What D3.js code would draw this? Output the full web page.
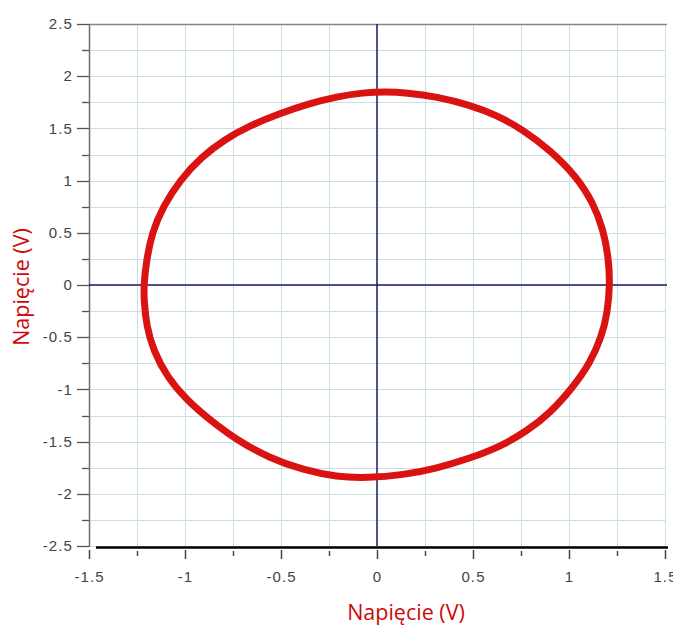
<!DOCTYPE html>
<html>
<head>
<meta charset="utf-8">
<script src="https://cdn.jsdelivr.net/npm/d3@7"></script>
<style>
  html, body { margin: 0; padding: 0; background: #ffffff; }
  svg { display: block; }
  .tick-label { font-family: "Liberation Sans", Arial, sans-serif; font-size: 15px; letter-spacing: 1.1px; fill: #444444; }
  .axis-title { font-family: "Open Sans", sans-serif; font-size: 21.5px; fill: #cc0a0a; }
</style>
</head>
<body>
<svg id="chart" width="673" height="628"></svg>
<script>
// Lissajous loop: voltage on channel 1 (x) vs channel 2 (y)
const loopX = [1.214, 1.205, 1.179, 1.127, 1.040, 0.901, 0.762, 0.623, 0.484, 0.311, 0.150, 0.050,
  -0.073, -0.210, -0.349, -0.505, -0.668, -0.792, -0.913, -1.026, -1.115, -1.173, -1.200, -1.214,
  -1.214, -1.200, -1.165, -1.095, -0.991, -0.870, -0.731, -0.557, -0.384, -0.210, -0.050,
  0.137, 0.311, 0.484, 0.641, 0.780, 0.901, 1.023, 1.109, 1.170, 1.200];
const loopY = [0.016, 0.271, 0.527, 0.783, 1.037, 1.293, 1.485, 1.628, 1.724, 1.804, 1.842, 1.852,
  1.843, 1.804, 1.740, 1.644, 1.522, 1.395, 1.229, 1.006, 0.750, 0.495, 0.240, 0.016,
  -0.144, -0.399, -0.623, -0.878, -1.102, -1.293, -1.485, -1.660, -1.772, -1.839, -1.848,
  -1.820, -1.756, -1.660, -1.549, -1.400, -1.229, -0.974, -0.750, -0.495, -0.271];

const xTicks = [-1.5, -1, -0.5, 0, 0.5, 1, 1.5];
const xTickLabels = ["-1.5", "-1", "-0.5", "0", "0.5", "1", "1.5"];
const yTicks = [2.5, 2, 1.5, 1, 0.5, 0, -0.5, -1, -1.5, -2, -2.5];
const yTickLabels = ["2.5", "2", "1.5", "1", "0.5", "0", "-0.5", "-1", "-1.5", "-2", "-2.5"];
const minorStep = 0.25;
const axisTitle = "Napięcie (V)";

const svg = d3.select("#chart");
const plotLeft = 89, plotRight = 665, plotTop = 24, plotBottom = 546;

const x = d3.scaleLinear().domain([-1.5, 1.5]).range([plotLeft, plotRight]);
const y = d3.scaleLinear().domain([-2.5, 2.5]).range([plotBottom, plotTop]);

const xGrid = d3.range(-1.5, 1.5001, minorStep);
const yGrid = d3.range(-2.5, 2.5001, minorStep);
const isMajor = (ticks, d) => ticks.some(t => Math.abs(t - d) < 1e-9);

// grid
const grid = svg.append("g").attr("stroke", "#cadfe5").attr("stroke-width", 1);
grid.selectAll("line.v").data(xGrid.filter(v => v > -1.5)).join("line")
  .attr("x1", d => Math.round(x(d)) + 0.5).attr("x2", d => Math.round(x(d)) + 0.5)
  .attr("y1", plotTop).attr("y2", plotBottom);
grid.selectAll("line.h").data(yGrid).join("line")
  .attr("x1", plotLeft).attr("x2", plotRight)
  .attr("y1", d => Math.round(y(d)) + 0.5).attr("y2", d => Math.round(y(d)) + 0.5);

// frame: top and left
svg.append("line").attr("x1", plotLeft).attr("x2", plotRight + 2).attr("y1", plotTop + 0.5).attr("y2", plotTop + 0.5)
  .attr("stroke", "#7d8a8a").attr("stroke-width", 1.5);
svg.append("line").attr("x1", plotLeft + 0.5).attr("x2", plotLeft + 0.5).attr("y1", plotTop).attr("y2", plotBottom + 1)
  .attr("stroke", "#6f6f6f").attr("stroke-width", 1.5);

// zero axes
svg.append("line").attr("x1", x(0)).attr("x2", x(0)).attr("y1", plotTop).attr("y2", plotBottom)
  .attr("stroke", "#1c1c66").attr("stroke-width", 1.5);
svg.append("line").attr("x1", plotLeft).attr("x2", plotRight + 2).attr("y1", y(0)).attr("y2", y(0))
  .attr("stroke", "#1c1c66").attr("stroke-width", 1.5);

// y axis ticks and labels
const yAxis = svg.append("g");
yAxis.selectAll("line").data(yGrid).join("line")
  .attr("x1", d => isMajor(yTicks, d) ? plotLeft - 12 : plotLeft - 7)
  .attr("x2", plotLeft)
  .attr("y1", d => Math.round(y(d)) + 0.5).attr("y2", d => Math.round(y(d)) + 0.5)
  .attr("stroke", "#555").attr("stroke-width", 1.3);
yAxis.selectAll("text").data(yTicks).join("text")
  .attr("class", "tick-label")
  .attr("x", plotLeft - 16).attr("y", d => y(d))
  .attr("dy", "0.35em").attr("text-anchor", "end")
  .text((d, i) => yTickLabels[i]);

// x axis line, ticks and labels
svg.append("line").attr("x1", 96).attr("x2", 668).attr("y1", plotBottom + 1.5).attr("y2", plotBottom + 1.5)
  .attr("stroke", "#000").attr("stroke-width", 2.5);
const xAxis = svg.append("g");
xAxis.selectAll("line").data(xGrid).join("line")
  .attr("x1", d => Math.round(x(d)) + 0.5).attr("x2", d => Math.round(x(d)) + 0.5)
  .attr("y1", d => isMajor(xTicks, d) ? plotBottom + 4 : plotBottom + 5)
  .attr("y2", d => isMajor(xTicks, d) ? plotBottom + 13 : plotBottom + 10)
  .attr("stroke", "#444").attr("stroke-width", 1.5);
xAxis.selectAll("text").data(xTicks).join("text")
  .attr("class", "tick-label")
  .attr("x", d => x(d) + 0.5).attr("y", 582)
  .attr("text-anchor", "middle")
  .text((d, i) => xTickLabels[i]);

// the loop, smoothed with a closed B-spline through the sampled points
const pts = loopX.map((v, i) => [v, loopY[i]]);
const line = d3.line().x(d => x(d[0])).y(d => y(d[1])).curve(d3.curveBasisClosed);
svg.append("path").datum(pts).attr("d", line)
  .attr("fill", "none").attr("stroke", "#da1212").attr("stroke-width", 7)
  .attr("stroke-linejoin", "round");

// axis titles
svg.append("text").attr("class", "axis-title")
  .attr("x", 406).attr("y", 620).attr("text-anchor", "middle").text(axisTitle);
svg.append("text").attr("class", "axis-title")
  .attr("transform", "translate(29,287) rotate(-90)")
  .attr("text-anchor", "middle").text(axisTitle);
</script>
</body>
</html>
